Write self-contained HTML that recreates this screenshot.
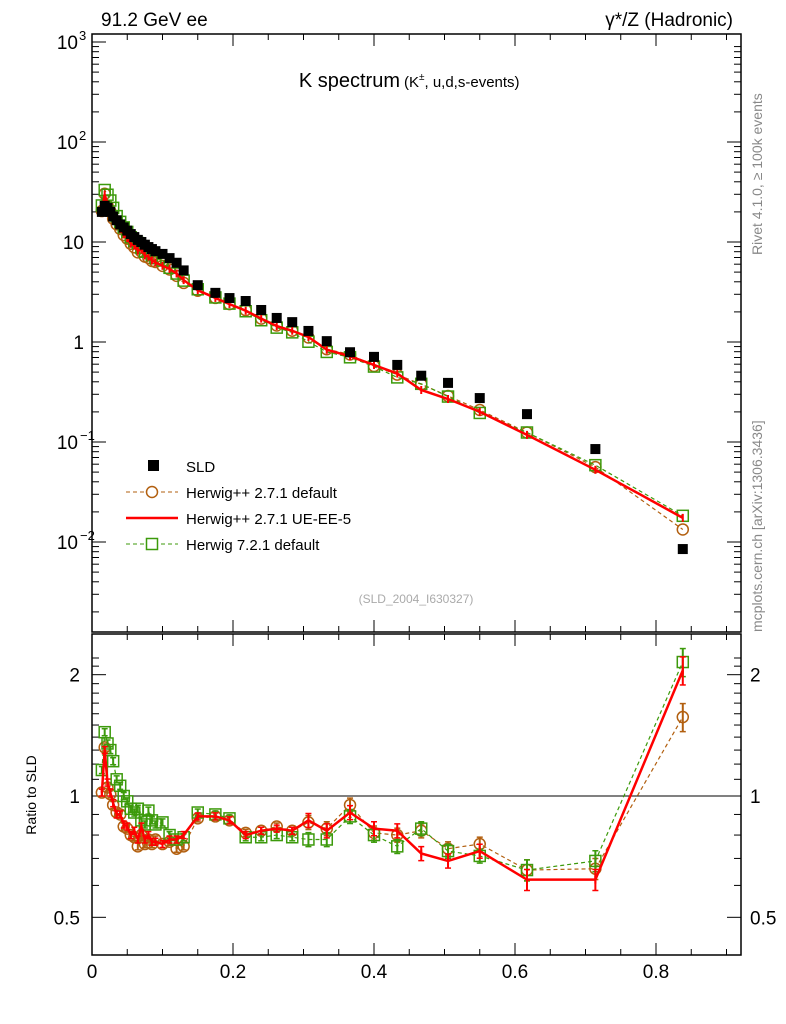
<!DOCTYPE html>
<html><head><meta charset="utf-8"><style>
body{margin:0;background:#fff}
svg{display:block;font-family:"Liberation Sans",sans-serif}
</style></head><body>
<svg id="c" width="786" height="1024" xmlns="http://www.w3.org/2000/svg">
<rect x="0" y="0" width="786" height="1024" fill="#fff"/>
<text x="101" y="26" font-size="19">91.2 GeV ee</text>
<text x="733" y="26" font-size="19" text-anchor="end">γ*/Z (Hadronic)</text>
<text x="400" y="87" font-size="20" text-anchor="end">K spectrum</text>
<text x="404" y="87" font-size="15">(K<tspan font-size="10" dy="-7">±</tspan><tspan dy="7">, u,d,s-events)</tspan></text>
<text x="416" y="603" font-size="12" fill="#aaa" text-anchor="middle">(SLD_2004_I630327)</text>
<text transform="translate(762,255) rotate(-90)" font-size="14" fill="#888">Rivet 4.1.0, ≥ 100k events</text>
<text transform="translate(762,632) rotate(-90)" font-size="14" fill="#888">mcplots.cern.ch [arXiv:1306.3436]</text>
<text transform="translate(36,795) rotate(-90)" font-size="14" text-anchor="middle">Ratio to SLD</text>
<g id="axes"></g>
<g id="marks"></g>
<g id="legend"></g>
</svg>
<script>
const xs=[0.014,0.018,0.022,0.026,0.030,0.035,0.040,0.045,0.050,0.055,0.060,0.065,0.070,0.075,0.080,0.085,0.090,0.100,0.110,0.120,0.130,0.150,0.175,0.195,0.218,0.240,0.262,0.284,0.307,0.333,0.366,0.400,0.433,0.467,0.505,0.550,0.617,0.714,0.838];
const sld=[20,23,22,20,18,16.5,15,14,13,12,11.2,10.5,10,9.4,8.9,8.5,8.1,7.6,6.9,6.2,5.2,3.7,3.1,2.75,2.57,2.09,1.74,1.58,1.29,1.02,0.79,0.71,0.59,0.46,0.39,0.275,0.19,0.085,0.0085];
const ratioRed=[1.02,1.30,1.08,1.02,0.96,0.90,0.90,0.85,0.84,0.80,0.82,0.78,0.84,0.78,0.80,0.77,0.77,0.76,0.78,0.78,0.80,0.89,0.89,0.87,0.80,0.82,0.83,0.82,0.87,0.82,0.91,0.83,0.82,0.72,0.69,0.73,0.62,0.62,2.05];
const ratioBrown=[1.02,1.32,1.05,1.01,0.95,0.91,0.90,0.84,0.83,0.80,0.79,0.75,0.80,0.76,0.78,0.76,0.78,0.76,0.77,0.74,0.75,0.88,0.89,0.87,0.81,0.82,0.84,0.82,0.86,0.83,0.95,0.81,0.80,0.82,0.74,0.76,0.655,0.66,1.57];
const ratioGreen=[1.16,1.44,1.35,1.30,1.22,1.10,1.06,1.00,0.97,0.93,0.91,0.93,0.87,0.85,0.92,0.87,0.85,0.86,0.80,0.78,0.79,0.91,0.90,0.88,0.79,0.79,0.80,0.79,0.78,0.78,0.89,0.80,0.75,0.83,0.73,0.71,0.655,0.69,2.15];
const xTicks=[0,0.2,0.4,0.6,0.8];
const xTickLabels=["0","0.2","0.4","0.6","0.8"];
const ratioTicks=[0.5,1,2];
const ratioTickLabels=["0.5","1","2"];

const NS="http://www.w3.org/2000/svg";
const L=92,R=741,T=34,B=632,RT=634,RB=955;
const X=v=>L+v*705;
const Y=v=>42+(3-Math.log10(v))*100;
const YR=v=>796-403*Math.log10(v);
function mk(tag,attrs,parent){const e=document.createElementNS(NS,tag);for(const k in attrs)e.setAttribute(k,attrs[k]);parent.appendChild(e);return e;}
const ax=document.getElementById('axes'),mg=document.getElementById('marks'),lg=document.getElementById('legend');

let f1=mk('rect',{x:L,y:T,width:R-L,height:B-T,fill:'none',stroke:'#000','stroke-width':1.5},ax);


let f2=mk('rect',{x:L,y:RT,width:R-L,height:RB-RT,fill:'none',stroke:'#000','stroke-width':1.5},ax);


for(let v=0;v<=0.92;v+=0.05){const big=Math.abs(v*10-Math.round(v*10))<1e-6&&Math.round(v*10)%2==0;const len=big?12:6;
 mk('line',{x1:X(v),x2:X(v),y1:T,y2:T+len,stroke:'#000'},ax);
 mk('line',{x1:X(v),x2:X(v),y1:B,y2:B-len,stroke:'#000'},ax);
 mk('line',{x1:X(v),x2:X(v),y1:RT,y2:RT+len,stroke:'#000'},ax);
 mk('line',{x1:X(v),x2:X(v),y1:RB,y2:RB-len,stroke:'#000'},ax);}
xTicks.forEach((v,i)=>{const t=mk('text',{x:X(v),y:978,'font-size':19,'text-anchor':'middle'},ax);t.textContent=xTickLabels[i];
 
 });
for(let d=-3;d<3;d++){for(let m=1;m<10;m++){const v=m*Math.pow(10,d);const y=Y(v);if(y<T||y>B)continue;const len=m==1?14:7;
 mk('line',{x1:L,x2:L+len,y1:y,y2:y,stroke:'#000'},ax);mk('line',{x1:R,x2:R-len,y1:y,y2:y,stroke:'#000'},ax);}}
mk('line',{x1:L,x2:L+14,y1:Y(1000),y2:Y(1000),stroke:'#000'},ax);
const ylab=[[1000,'10','3'],[100,'10','2'],[10,'10',''],[1,'1',''],[0.1,'10','−1'],[0.01,'10','−2']];
ylab.forEach(a=>{const t=mk('text',{x:a[2]?78:84,y:Y(a[0])+7,'font-size':19,'text-anchor':'end'},ax);t.textContent=a[1];
 
 
 if(a[2]){const s=mk('text',{x:a[2].length>1?80:79,y:Y(a[0])-2,'font-size':13},ax);s.textContent=a[2];}});
for(let v=0.4;v<=2.3;v+=0.1){const y=YR(v);if(y<RT||y>RB)continue;const big=ratioTicks.some(r=>Math.abs(r-v)<1e-6);const len=big?14:7;
 mk('line',{x1:L,x2:L+len,y1:y,y2:y,stroke:'#000'},ax);mk('line',{x1:R,x2:R-len,y1:y,y2:y,stroke:'#000'},ax);}
ratioTicks.forEach((v,i)=>{let t=mk('text',{x:80,y:YR(v)+7,'font-size':19,'text-anchor':'end'},ax);t.textContent=ratioTickLabels[i];
 
 
 t=mk('text',{x:750,y:YR(v)+7,'font-size':19},ax);t.textContent=ratioTickLabels[i];});
mk('line',{x1:L,x2:R,y1:YR(1),y2:YR(1),stroke:'#000','stroke-width':1},ax);

function series(vals,color,dash,marker,name,Yf,width,err){
 const g=mk('g',{},mg);
 
 
 const pts=xs.map((x,i)=>X(x)+','+Yf(vals[i])).join(' ');
 mk('polyline',{points:pts,fill:'none',stroke:color,'stroke-width':width,'stroke-dasharray':dash},g);
 xs.forEach((x,i)=>{const cx=X(x),cy=Yf(vals[i]);
  if(err){const e=x>0.3?(x>0.6?(x>0.8?0.08:0.06):0.04):0.02;const y1=Yf(vals[i]*(1+e)),y2=Yf(vals[i]*(1-e));
   mk('line',{x1:cx,x2:cx,y1:y1,y2:y2,stroke:color,'stroke-width':2},g);
   mk('line',{x1:cx-3,x2:cx+3,y1:y1,y2:y1,stroke:color,'stroke-width':1.5},g);
   mk('line',{x1:cx-3,x2:cx+3,y1:y2,y2:y2,stroke:color,'stroke-width':1.5},g);}
  if(marker=='circle')mk('circle',{cx,cy,r:5.5,fill:'none',stroke:color,'stroke-width':1.5},g);
  else if(marker=='square')mk('rect',{x:cx-5.5,y:cy-5.5,width:11,height:11,fill:'none',stroke:color,'stroke-width':1.5},g);
  else mk('line',{x1:cx,x2:cx,y1:cy-4,y2:cy+4,stroke:color,'stroke-width':2},g);});
}
const mc=(r)=>sld.map((d,i)=>d*r[i]);
series(mc(ratioBrown),'#b25f0f','4,3','circle','herwigpp-default-main',Y,1.2,false);
series(mc(ratioGreen),'#3c9a0b','4,3','square','herwig7-default-main',Y,1.2,false);
series(mc(ratioRed),'#f00','','bar','herwigpp-ue-ee-5-main',Y,2.5,false);
const dg=mk('g',{},mg);


xs.forEach((x,i)=>{mk('rect',{x:X(x)-5,y:Y(sld[i])-5,width:10,height:10,fill:'#000'},dg);});
series(ratioBrown,'#b25f0f','4,3','circle','herwigpp-default-ratio',YR,1.2,true);
series(ratioGreen,'#3c9a0b','4,3','square','herwig7-default-ratio',YR,1.2,true);
series(ratioRed,'#f00','','bar','herwigpp-ue-ee-5-ratio',YR,2.5,true);

const items=[['SLD','data'],['Herwig++ 2.7.1 default','brown'],['Herwig++ 2.7.1 UE-EE-5','red'],['Herwig 7.2.1 default','green']];
items.forEach((it,i)=>{const y=466+i*26;const g=mk('g',{},lg);
 
 
 if(it[1]=='data')mk('rect',{x:148,y:y-6,width:11,height:11,fill:'#000'},g);
 else if(it[1]=='brown'){mk('line',{x1:126,x2:178,y1:y,y2:y,stroke:'#b25f0f','stroke-dasharray':'4,3'},g);mk('circle',{cx:152,cy:y,r:5.5,fill:'#fff',stroke:'#b25f0f','stroke-width':1.5},g);}
 else if(it[1]=='red')mk('line',{x1:126,x2:178,y1:y,y2:y,stroke:'#f00','stroke-width':2.5},g);
 else {mk('line',{x1:126,x2:178,y1:y,y2:y,stroke:'#3c9a0b','stroke-dasharray':'4,3'},g);mk('rect',{x:146.5,y:y-5.5,width:11,height:11,fill:'#fff',stroke:'#3c9a0b','stroke-width':1.5},g);}
 const t=mk('text',{x:186,y:y+6,'font-size':15},g);t.textContent=it[0];});
</script>
</body></html>
